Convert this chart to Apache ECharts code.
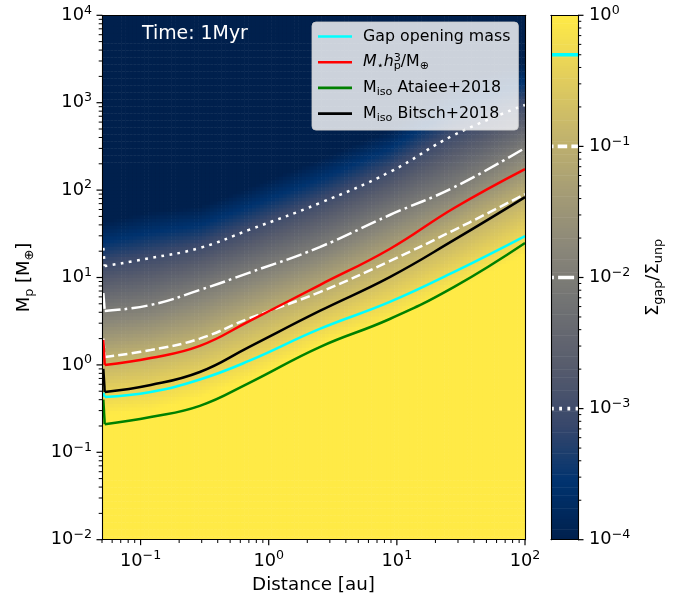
<!DOCTYPE html>
<html><head><meta charset="utf-8">
<script src="https://cdn.jsdelivr.net/npm/echarts@6/dist/echarts.min.js"></script>
<style>html,body{margin:0;padding:0;background:#fff}#c{width:686px;height:601px}</style>
</head><body><div id="c"></div>
<script>
// ---- data ----
const distance        = [0.0512, 0.0525, 0.12, 0.29, 0.7, 2.5, 8.8, 28, 100];     // au
const gapOpeningMass  = [0.48, 0.43, 0.49, 0.68, 1.11, 2.58, 5.25, 11.6, 29.8];  // Σgap/Σunp = 0.5
const mStarH3         = [1.93, 1.0, 1.2, 1.65, 3.15, 8.2, 21.2, 62.4, 174];
const mIsoAtaiee      = [0.4, 0.21, 0.254, 0.34, 0.62, 1.6, 3.35, 7.8, 24.8];
const mIsoBitsch      = [0.9, 0.49, 0.59, 0.83, 1.6, 4.14, 10.1, 26.9, 83];
const contour1e1      = [2.0, 1.23, 1.48, 2.0, 3.4, 6.8, 15.4, 34.9, 90];        // Σgap/Σunp = 0.1
const contour1e2      = [6.65, 4.14, 4.85, 7.2, 11.3, 22.3, 51.9, 108, 303];     // 0.01
const contour1e3      = [21.8, 13.5, 16.7, 21.8, 35, 71, 161, 427, 942];         // 0.001
const contourLevels   = [0.5, 0.1, 0.01, 0.001];
const xMajorTicks = [0.1, 1, 10, 100];
const yMajorTicks = [0.01, 0.1, 1, 10, 100, 1000, 10000];
const cbMajorTicks = [0.0001, 0.001, 0.01, 0.1, 1];
const cividis = ["#00204D","#00336F","#39486B","#575C6D","#707173","#8A8779","#A69D75","#C4B56C","#E4CF5B","#FFEA46"];
const minorMult = [2,3,4,5,6,7,8,9];

const F = '"DejaVu Sans"';
const L = Math.log10;

// ---- heatmap cells derived from the read contour lines ----
function interp(xs, ys, x) {
  if (x <= xs[0]) return ys[0] + (x - xs[0]) * (ys[1] - ys[0]) / (xs[1] - xs[0]);
  for (let i = 1; i < xs.length; i++) {
    if (x <= xs[i]) { const t = (x - xs[i-1]) / (xs[i] - xs[i-1]); return ys[i-1] + t * (ys[i] - ys[i-1]); }
  }
  return ys[ys.length-1];
}
const contourSets = [gapOpeningMass, contour1e1, contour1e2, contour1e3];
const lxs = distance.slice(1).map(L);
const lcs = contourSets.map(a => a.slice(1).map(L));
const lv = contourLevels.map(L);
const heat = [];
const NX = 110, NY = 150, X0 = L(0.05), X1 = 2, Y0 = -2, Y1 = 4;
for (let i = 0; i < NX; i++) {
  const a = X0 + (X1 - X0) * i / NX, b = X0 + (X1 - X0) * (i + 1) / NX, xm = (a + b) / 2;
  const cm = lcs.map(ys => interp(lxs, ys, xm));
  for (let j = 0; j < NY; j++) {
    const c = Y0 + (Y1 - Y0) * j / NY, d = Y0 + (Y1 - Y0) * (j + 1) / NY, ym = (c + d) / 2;
    let v;
    if (ym <= cm[0]) v = lv[0] + (ym - cm[0]) * (lv[1] - lv[0]) / (cm[1] - cm[0]);
    else if (ym >= cm[3]) v = lv[3] + (ym - cm[3]) * (lv[3] - lv[2]) / (cm[3] - cm[2]);
    else {
      for (let k = 0; k < 3; k++) if (ym <= cm[k+1]) { v = lv[k] + (ym - cm[k]) * (lv[k+1] - lv[k]) / (cm[k+1] - cm[k]); break; }
    }
    v = Math.max(-4, Math.min(0, v));
    heat.push([Math.pow(10, a), Math.pow(10, b), Math.pow(10, c), Math.pow(10, d), v]);
  }
}
// colorbar slices
const cbar = [];
for (let i = 0; i < 200; i++) {
  const a = -4 + 4 * i / 200, b = -4 + 4 * (i + 1) / 200;
  cbar.push([0, 1, Math.pow(10, a), Math.pow(10, b), (a + b) / 2]);
}

const mkAll = arr => distance.map((d, i) => [d, arr[i]]);

function expLabel(v) {
  const e = L(v), r = Math.round(e);
  if (Math.abs(e - r) > 1e-6) return '';
  return '{b|10}{s|' + (r < 0 ? '\u2212' + (-r) : r) + '}';
}
const labelRich = {
  b: {fontSize: 17.8, fontFamily: F, color: '#000', lineHeight: 23},
  s: {fontSize: 12.6, fontFamily: F, color: '#000', lineHeight: 13, verticalAlign: 'top'}
};

function rectItem(params, api) {
  const p0 = api.coord([api.value(0), api.value(3)]);
  const p1 = api.coord([api.value(1), api.value(2)]);
  return {type: 'rect', shape: {x: p0[0], y: p0[1], width: p1[0] - p0[0] + 0.6, height: p1[1] - p0[1] + 0.6},
          style: {fill: api.visual('color')}};
}

function minorVals(kmin, kmax, lo, hi) {
  const out = [];
  for (let k = kmin; k <= kmax; k++) minorMult.forEach(m => { const v = m * Math.pow(10, k); if (v >= lo * 0.999 && v <= hi * 1.001) out.push(v); });
  return out;
}

const W = 2.5;
const legendText = {
  'Gap opening mass': '{t|Gap opening mass}',
  'Mstar': '{i|M}{sub|\u22C6}{i|h}{sup|3}{sub|p}{t|/M}{sub|\u2295}',
  'Ataiee': '{t|M}{sub|iso}{t| Ataiee+2018}',
  'Bitsch': '{t|M}{sub|iso}{t| Bitsch+2018}'
};

function curve(name, arr, style, z) {
  const all = mkAll(arr);
  return [
    {type: 'line', name: name, data: all.slice(1), symbol: 'none', showSymbol: false, z: z, color: style.color,
     smooth: 0.45, lineStyle: style},
    {type: 'line', name: name, data: all.slice(0, 2), symbol: 'none', showSymbol: false, z: z, color: style.color,
     lineStyle: style}
  ];
}

const hiddenAxis = (type, extra) => Object.assign({type: type, z: 10, axisLine: {show: true, onZero: false, lineStyle: {color: '#000', width: 1.1}},
  axisTick: {show: false}, axisLabel: {show: false}, splitLine: {show: false}}, extra);
const noTick = {show: false};

const subRich = {
  t: {fontSize: 18, fontFamily: F, color: '#000', lineHeight: 23},
  sub: {fontSize: 12.8, fontFamily: F, color: '#000', lineHeight: 15, verticalAlign: 'bottom'}
};
const timeText = {type: 'text', left: 142, top: 25, z: 30,
                  style: {text: 'Time: 1Myr', fill: '#fff', fontSize: 18.9, fontFamily: F}};

const option = {
  animation: false,
  backgroundColor: '#fff',
  grid: [
    {left: 102, top: 15.3, width: 423, height: 524.4},
    {left: 551, top: 15.3, width: 27, height: 524.4}
  ],
  xAxis: [
    {type: 'log', gridIndex: 0, min: 0.05, max: 100, z: 10, position: 'bottom',
     axisLine: {show: true, onZero: false, lineStyle: {color: '#000', width: 1.1}},
     axisTick: noTick,
     axisLabel: {show: true, formatter: expLabel, rich: labelRich, margin: 10},
     splitLine: {show: false},
     name: 'Distance [au]', nameLocation: 'middle', nameGap: 37,
     nameTextStyle: {fontSize: 18.3, fontFamily: F, color: '#000'}},
    hiddenAxis('value', {gridIndex: 1, min: 0, max: 1, position: 'bottom'}),
    hiddenAxis('log', {gridIndex: 0, min: 0.05, max: 100, position: 'top'}),
    hiddenAxis('value', {gridIndex: 1, min: 0, max: 1, position: 'top'})
  ],
  yAxis: [
    {type: 'log', gridIndex: 0, min: 0.01, max: 10000, z: 10, position: 'left',
     axisLine: {show: true, onZero: false, lineStyle: {color: '#000', width: 1.1}},
     axisTick: noTick,
     axisLabel: {show: true, formatter: expLabel, rich: labelRich, margin: 10},
     splitLine: {show: false},
     name: '{t|M}{sub|p}{t| [M}{sub|\u2295}{t|]}', nameLocation: 'middle', nameGap: 66, nameRotate: 90,
     nameTextStyle: {rich: subRich}},
    {type: 'log', gridIndex: 1, min: 0.0001, max: 1, z: 10, position: 'right',
     axisLine: {show: true, onZero: false, lineStyle: {color: '#000', width: 1.1}},
     axisTick: noTick,
     axisLabel: {show: true, formatter: expLabel, rich: labelRich, margin: 11},
     splitLine: {show: false},
     name: '{t|\u03A3}{sub|gap}{t|/\u03A3}{sub|unp}', nameLocation: 'middle', nameGap: 64, nameRotate: 90,
     nameTextStyle: {rich: subRich}},
    hiddenAxis('log', {gridIndex: 0, min: 0.01, max: 10000, position: 'right'}),
    hiddenAxis('log', {gridIndex: 1, min: 0.0001, max: 1, position: 'left'})
  ],
  visualMap: {show: false, type: 'continuous', min: -4, max: 0, dimension: 4, seriesIndex: [0, 1],
              inRange: {color: cividis}},
  legend: {
    data: ['Gap opening mass', 'Mstar', 'Ataiee', 'Bitsch'],
    orient: 'vertical', left: 312, top: 22, itemWidth: 34, itemHeight: 2.6, itemGap: 6.7, icon: 'rect',
    padding: [5, 8, 7, 6],
    backgroundColor: 'rgba(255,255,255,0.8)', borderColor: 'rgba(204,204,204,0.8)', borderWidth: 1, borderRadius: 4,
    formatter: n => legendText[n],
    textStyle: {fontSize: 15.8, fontFamily: F, color: '#000', padding: [0, 0, 0, 6], lineHeight: 19,
      rich: {
        t: {fontSize: 15.8, fontFamily: F, color: '#000', lineHeight: 19},
        i: {fontSize: 15.8, fontFamily: F, fontStyle: 'italic', color: '#000', lineHeight: 19},
        sub: {fontSize: 11.2, fontFamily: F, color: '#000', lineHeight: 13, verticalAlign: 'bottom'},
        sup: {fontSize: 11.2, fontFamily: F, color: '#000', lineHeight: 13, verticalAlign: 'top', width: 0}
      }},
    z: 30
  },
  graphic: [timeText],
  series: [
    {type: 'custom', name: 'heat', xAxisIndex: 0, yAxisIndex: 0, data: heat, encode: {x: [0, 1], y: [2, 3]},
     renderItem: rectItem, silent: true, clip: true, progressive: 0, z: 1},
    {type: 'custom', name: 'cbar', xAxisIndex: 1, yAxisIndex: 1, data: cbar, encode: {x: [0, 1], y: [2, 3]},
     renderItem: rectItem, silent: true, clip: true, progressive: 0, z: 1},
    ...curve('c1e1', contour1e1, {color: '#fff', width: W, type: [9.5, 4.2], cap: 'butt'}, 3),
    ...curve('c1e2', contour1e2, {color: '#fff', width: W, type: [16, 4.2, 2.7, 4.2], cap: 'butt'}, 3),
    ...curve('c1e3', contour1e3, {color: '#fff', width: W, type: [2.8, 5.4], cap: 'butt'}, 3),
    ...curve('Gap opening mass', gapOpeningMass, {color: '#00ffff', width: W}, 4),
    ...curve('Mstar', mStarH3, {color: '#ff0000', width: W}, 4),
    ...curve('Ataiee', mIsoAtaiee, {color: '#008000', width: W}, 4),
    ...curve('Bitsch', mIsoBitsch, {color: '#000000', width: W}, 4),
    // colorbar contour markers
    {type: 'line', xAxisIndex: 1, yAxisIndex: 1, data: [[0, contourLevels[0]], [1, contourLevels[0]]], symbol: 'none', z: 5,
     lineStyle: {color: '#00ffff', width: 3.6}, silent: true},
    {type: 'line', xAxisIndex: 1, yAxisIndex: 1, data: [[0, contourLevels[1]], [1, contourLevels[1]]], symbol: 'none', z: 5,
     lineStyle: {color: '#fff', width: 3.6, type: [9.5, 4.2], dashOffset: 7, cap: 'butt'}, silent: true},
    {type: 'line', xAxisIndex: 1, yAxisIndex: 1, data: [[0, contourLevels[2]], [1, contourLevels[2]]], symbol: 'none', z: 5,
     lineStyle: {color: '#fff', width: 3.6, type: [16, 4.2, 2.7, 4.2], dashOffset: 20, cap: 'butt'}, silent: true},
    {type: 'line', xAxisIndex: 1, yAxisIndex: 1, data: [[0, contourLevels[3]], [1, contourLevels[3]]], symbol: 'none', z: 5,
     lineStyle: {color: '#fff', width: 3.6, type: [2.8, 5.4], cap: 'butt'}, silent: true}
  ]
};
const chart = echarts.init(document.getElementById('c'), null, {renderer: 'canvas'});
chart.setOption(option);

// ---- axis ticks placed through the axes' own scales ----
const ticks = [];
function tick(x1, y1, x2, y2, w) {
  ticks.push({type: 'line', silent: true, z: 100, shape: {x1: x1, y1: y1, x2: x2, y2: y2},
              style: {stroke: '#000', lineWidth: w}});
}
const yBottom = chart.convertToPixel({yAxisIndex: 0}, 0.01);
const xLeft = chart.convertToPixel({xAxisIndex: 0}, 0.05);
const cbRight = chart.convertToPixel({xAxisIndex: 1}, 1);
xMajorTicks.forEach(v => { const p = chart.convertToPixel({xAxisIndex: 0}, v); tick(p, yBottom, p, yBottom + 5.5, 1.2); });
minorVals(-2, 1, 0.05, 100).forEach(v => { const p = chart.convertToPixel({xAxisIndex: 0}, v); tick(p, yBottom, p, yBottom + 3.3, 1); });
yMajorTicks.forEach(v => { const p = chart.convertToPixel({yAxisIndex: 0}, v); tick(xLeft - 5.5, p, xLeft, p, 1.2); });
minorVals(-2, 3, 0.01, 10000).forEach(v => { const p = chart.convertToPixel({yAxisIndex: 0}, v); tick(xLeft - 3.3, p, xLeft, p, 1); });
cbMajorTicks.forEach(v => { const p = chart.convertToPixel({yAxisIndex: 1}, v); tick(cbRight, p, cbRight + 5.5, p, 1.2); });
minorVals(-4, -1, 0.0001, 1).forEach(v => { const p = chart.convertToPixel({yAxisIndex: 1}, v); tick(cbRight, p, cbRight + 3.3, p, 1); });
chart.setOption({graphic: [timeText].concat(ticks)});
</script>
</body></html>
